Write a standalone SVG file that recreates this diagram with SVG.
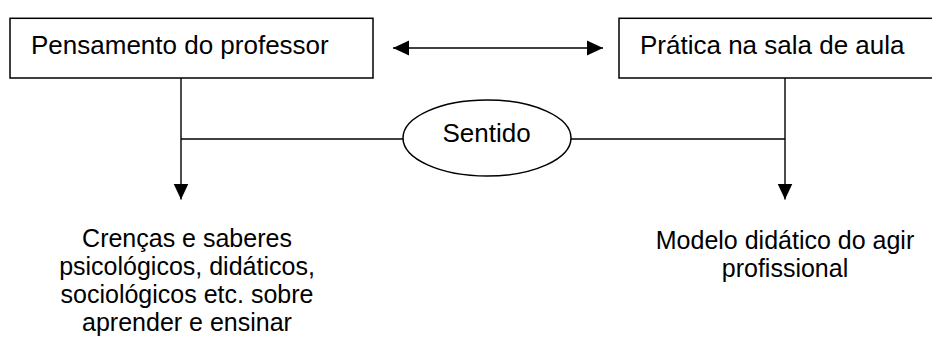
<svg xmlns="http://www.w3.org/2000/svg" width="932" height="345" viewBox="0 0 932 345">
  <style>
    .box { fill: #ffffff; stroke: #000000; stroke-width: 1.5; }
    .line { fill: none; stroke: #000000; stroke-width: 1.4; }
    .label { font-family: "Liberation Sans", Arial, sans-serif; font-size: 26px; fill: #000000; }
    .multi { font-size: 25px; }
    .mid { text-anchor: middle; }
  </style>
  <defs>
    <marker id="head" viewBox="0 0 16 16" refX="16" refY="8" markerWidth="16" markerHeight="16" markerUnits="userSpaceOnUse" orient="auto-start-reverse">
      <path d="M0,0.5 L16,8 L0,15.5 Z" fill="#000000"/>
    </marker>
  </defs>
  <rect width="932" height="345" fill="#ffffff"/>

  <!-- connectors -->
  <g id="connectors">
    <line class="line" x1="393" y1="48" x2="603" y2="48" marker-start="url(#head)" marker-end="url(#head)"/>
    <line class="line" x1="181" y1="78" x2="181" y2="199.5" marker-end="url(#head)"/>
    <line class="line" x1="785" y1="78" x2="785" y2="199.5" marker-end="url(#head)"/>
    <line class="line" x1="181" y1="139" x2="403" y2="139"/>
    <line class="line" x1="571" y1="139" x2="785" y2="139"/>
  </g>

  <g id="pensamento">
    <rect class="box" x="10" y="18.3" width="363" height="59.7"/>
    <text class="label" x="31" y="54.3">Pensamento do professor</text>
  </g>

  <g id="pratica">
    <rect class="box" x="619" y="18.3" width="330" height="59.7"/>
    <text class="label" x="640" y="54.3">Prática na sala de aula</text>
  </g>

  <g id="sentido">
    <ellipse class="box" cx="487" cy="138" rx="84" ry="38"/>
    <text class="label mid" x="486.5" y="141.7">Sentido</text>
  </g>

  <g id="crencas">
    <text class="label multi mid" x="187" y="247">Crenças e saberes</text>
    <text class="label multi mid" x="187" y="275">psicológicos, didáticos,</text>
    <text class="label multi mid" x="187" y="303">sociológicos etc. sobre</text>
    <text class="label multi mid" x="187" y="331">aprender e ensinar</text>
  </g>

  <g id="modelo">
    <text class="label multi mid" x="785" y="249.3">Modelo didático do agir</text>
    <text class="label multi mid" x="785" y="277.3">profissional</text>
  </g>
</svg>
